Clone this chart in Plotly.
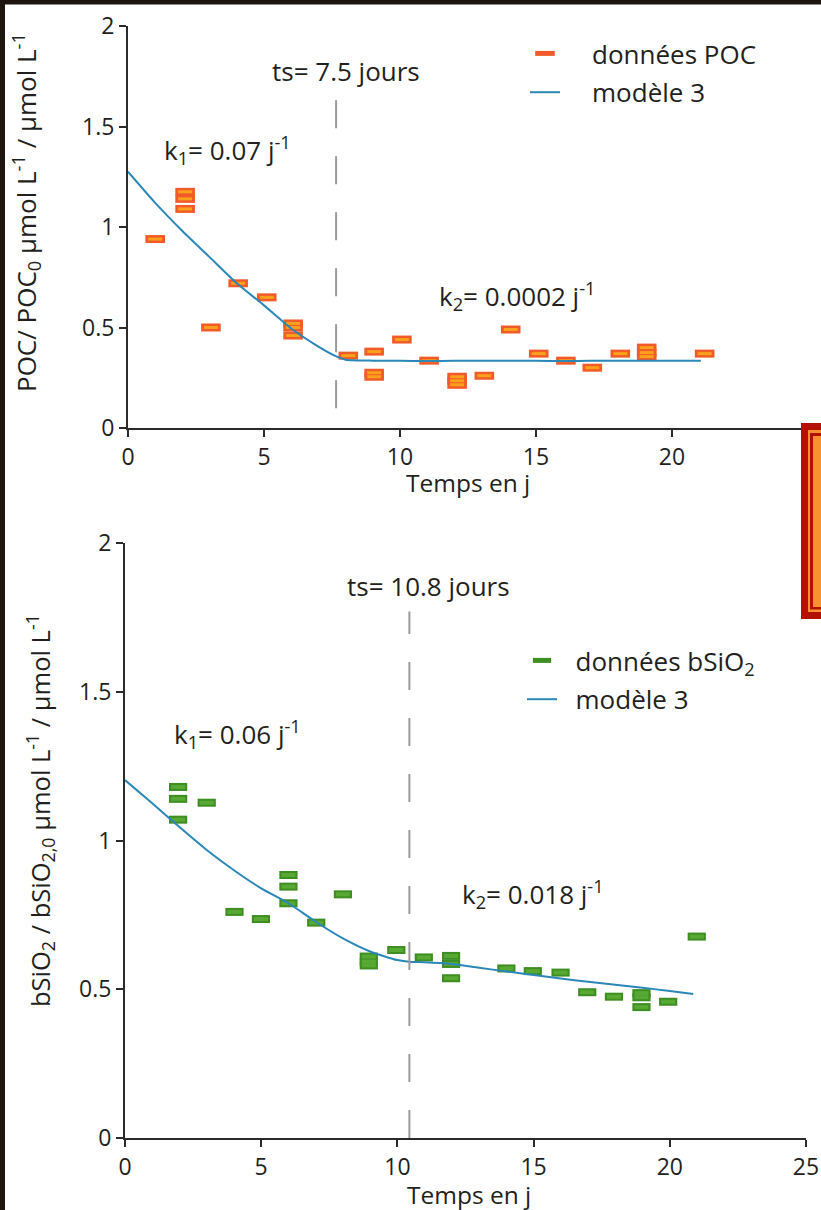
import plotly.graph_objects as go

W, H = 821, 1210

# ---------------- data ----------------
poc_days = [1.0, 2.1, 2.1, 2.1, 3.05, 4.05, 5.1, 6.07, 6.07, 6.07, 8.1, 9.05, 9.05, 9.05,
            10.07, 11.07, 12.1, 12.1, 12.1, 13.1, 14.07, 15.1, 16.1, 17.07, 18.1,
            19.07, 19.07, 19.07, 21.2]
poc_vals = [0.94, 1.175, 1.14, 1.09, 0.50, 0.72, 0.65, 0.52, 0.50, 0.46, 0.36, 0.38, 0.275, 0.255,
            0.44, 0.335, 0.255, 0.235, 0.215, 0.26, 0.49, 0.37, 0.335, 0.30, 0.37,
            0.40, 0.375, 0.355, 0.37]

model_poc_x = [0, 1, 2, 3, 4, 5, 6, 7, 7.6, 8, 9, 10, 11, 12, 13, 14, 15, 16, 17, 18, 19, 20, 21.06]
model_poc_y = [1.275, 1.12, 0.98, 0.85, 0.72, 0.61, 0.495, 0.405, 0.36, 0.34, 0.335, 0.335, 0.333,
               0.335, 0.335, 0.335, 0.334, 0.333, 0.335, 0.335, 0.335, 0.335, 0.335]

bsi_days = [1.95, 1.95, 1.95, 3.0, 4.02, 4.99, 6.0, 6.0, 6.0, 7.02, 8.0, 8.95, 8.95, 8.95,
            9.96, 10.97, 11.97, 11.97, 11.97, 14.0, 14.97, 15.99, 16.97, 17.95,
            18.96, 18.96, 18.96, 19.94, 20.99]
bsi_vals = [1.18, 1.14, 1.07, 1.127, 0.76, 0.736, 0.884, 0.845, 0.789, 0.724, 0.819, 0.61, 0.593, 0.58,
            0.632, 0.607, 0.612, 0.585, 0.537, 0.57, 0.561, 0.556, 0.49, 0.475,
            0.487, 0.473, 0.44, 0.458, 0.677]

model_bsi_x = [0, 1, 2, 3, 4, 5, 6, 7, 8, 9, 10, 10.5, 11, 12, 13, 14, 15, 16, 17, 18, 19, 20, 20.86]
model_bsi_y = [1.203, 1.125, 1.045, 0.968, 0.90, 0.839, 0.789, 0.727, 0.671, 0.627, 0.598, 0.592,
               0.591, 0.585, 0.572, 0.56, 0.548, 0.536, 0.525, 0.515, 0.505, 0.494, 0.484]

ts_poc = 7.65          # position of the dashed line (top)
ts_bsi = 10.44         # position of the dashed line (bottom)
ts_poc_label = "ts= 7.5 jours"
ts_bsi_label = "ts= 10.8 jours"
k_poc = ["k<sub>1</sub>= 0.07 j<sup>-1</sup>", "k<sub>2</sub>= 0.0002 j<sup>-1</sup>"]
k_bsi = ["k<sub>1</sub>= 0.06 j<sup>-1</sup>", "k<sub>2</sub>= 0.018 j<sup>-1</sup>"]

x_ticks = [0, 5, 10, 15, 20, 25]
x_ticktext = ["0", "5", "10", "15", "20", "25"]
y_ticks = [0, 0.5, 1, 1.5, 2]
y_ticktext = ["0", "0.5", "1", "1.5", "2"]

# ---------------- style ----------------
FONT = "Open Sans"
TXT = "#231F20"
AX = "#2b2b2b"
BLUE = "#2B87B8"
POC_OUT, POC_IN = "#F15A29", "#F9A11B"
BSI_OUT, BSI_IN = "#3E8E22", "#57A933"
PAD1 = "\u00a0" * 4   # spacing between legend symbol and text (top)
PAD2 = "\u00a0" * 2   # spacing between legend symbol and text (bottom)


def px(x):
    return x / W


def py(y):
    return 1 - y / H


fig = go.Figure()

# top panel
fig.add_trace(go.Scatter(x=poc_days, y=poc_vals, mode="markers", name=PAD1 + "données POC",
                         legend="legend", legendgroup="poc",
                         marker=dict(symbol="line-ew", size=14, color=POC_OUT,
                                     line=dict(width=8, color=POC_OUT)),
                         xaxis="x", yaxis="y"))
fig.add_trace(go.Scatter(x=poc_days, y=poc_vals, mode="markers", showlegend=False,
                         legend="legend", legendgroup="poc", hoverinfo="skip",
                         marker=dict(symbol="line-ew", size=10, color=POC_IN,
                                     line=dict(width=3, color=POC_IN)),
                         xaxis="x", yaxis="y"))
fig.add_trace(go.Scatter(x=model_poc_x, y=model_poc_y, mode="lines", name=PAD1 + "modèle 3",
                         legend="legend", legendgroup="m1",
                         line=dict(color=BLUE, width=2, shape="spline", smoothing=0.6),
                         xaxis="x", yaxis="y"))

# bottom panel
fig.add_trace(go.Scatter(x=bsi_days, y=bsi_vals, mode="markers", name=PAD2 + "données bSiO<sub>2</sub>",
                         legend="legend2", legendgroup="bsi",
                         marker=dict(symbol="line-ew", size=13, color=BSI_OUT,
                                     line=dict(width=8, color=BSI_OUT)),
                         xaxis="x2", yaxis="y2"))
fig.add_trace(go.Scatter(x=bsi_days, y=bsi_vals, mode="markers", showlegend=False,
                         legend="legend2", legendgroup="bsi", hoverinfo="skip",
                         marker=dict(symbol="line-ew", size=10, color=BSI_IN,
                                     line=dict(width=4, color=BSI_IN)),
                         xaxis="x2", yaxis="y2"))
fig.add_trace(go.Scatter(x=model_bsi_x, y=model_bsi_y, mode="lines", name=PAD2 + "modèle 3",
                         legend="legend2", legendgroup="m2",
                         line=dict(color=BLUE, width=2, shape="spline", smoothing=0.6),
                         xaxis="x2", yaxis="y2"))

axis_common = dict(showline=True, linecolor=AX, linewidth=2, ticks="outside", ticklen=7,
                   tickwidth=2, tickcolor=AX, showgrid=False, zeroline=False, automargin=False,
                   tickfont=dict(family=FONT, size=23, color=TXT), fixedrange=True)

fig.update_layout(
    width=W, height=H,
    margin=dict(l=0, r=0, t=0, b=0, pad=0, autoexpand=False),
    paper_bgcolor="#1E140E",
    plot_bgcolor="rgba(0,0,0,0)",
    font=dict(family=FONT, size=26, color=TXT),
    xaxis=dict(domain=[px(128), px(808)], range=[0, 25], anchor="y",
               tickvals=x_ticks, ticktext=x_ticktext, **axis_common),
    yaxis=dict(domain=[py(428), py(26)], range=[0, 2], anchor="x",
               tickvals=y_ticks, ticktext=y_ticktext, **axis_common),
    xaxis2=dict(domain=[px(125), px(806)], range=[0, 25], anchor="y2",
                tickvals=x_ticks, ticktext=x_ticktext, **axis_common),
    yaxis2=dict(domain=[py(1138), py(543)], range=[0, 2], anchor="x2",
                tickvals=y_ticks, ticktext=y_ticktext, **axis_common),
    legend=dict(x=px(525), y=py(30), xanchor="left", yanchor="top",
                bgcolor="rgba(0,0,0,0)", font=dict(family=FONT, size=26, color=TXT),
                itemwidth=30, tracegroupgap=2),
    legend2=dict(x=px(522), y=py(637), xanchor="left", yanchor="top",
                 bgcolor="rgba(0,0,0,0)", font=dict(family=FONT, size=26, color=TXT),
                 itemwidth=30, tracegroupgap=2),
    showlegend=True,
)

shapes = [
    # white page inside the dark frame
    dict(type="rect", xref="paper", yref="paper", x0=px(5), x1=px(821), y0=py(1210), y1=py(4.5),
         fillcolor="white", line=dict(width=0), layer="below"),
    # dashed lines at ts
    dict(type="line", xref="x", yref="y", x0=ts_poc, x1=ts_poc, y0=1.63, y1=0.095,
         line=dict(color="#9a9a9a", width=2, dash="28px,28px")),
    dict(type="line", xref="x2", yref="y2", x0=ts_bsi, x1=ts_bsi, y0=0, y1=1.77,
         line=dict(color="#9a9a9a", width=2, dash="28px,28px")),
    # decorative orange box on the right edge
    dict(type="rect", xref="paper", yref="paper", x0=px(801), x1=px(830), y0=py(619), y1=py(423),
         fillcolor="#B31200", line=dict(width=0), layer="above"),
    dict(type="rect", xref="paper", yref="paper", x0=px(808), x1=px(830), y0=py(612), y1=py(430),
         fillcolor="#F7922E", line=dict(width=0), layer="above"),
    dict(type="rect", xref="paper", yref="paper", x0=px(810), x1=px(830), y0=py(609.5), y1=py(433),
         fillcolor="#B31200", line=dict(width=0), layer="above"),
    dict(type="rect", xref="paper", yref="paper", x0=px(813), x1=px(830), y0=py(607), y1=py(436),
         fillcolor="#F7922E", line=dict(width=0), layer="above"),
]
fig.update_layout(shapes=shapes)


def ann(text, x, y, xanchor="left", angle=0, size=26):
    return dict(text=text, xref="paper", yref="paper", x=px(x), y=py(y), xanchor=xanchor,
                yanchor="middle", showarrow=False, textangle=angle,
                font=dict(family=FONT, size=size, color=TXT))


annotations = [
    ann(ts_poc_label, 270, 71),
    ann(k_poc[0], 162, 150),
    ann(k_poc[1], 437, 296),
    ann("Temps en j", 468, 483, xanchor="center", size=24.5),
    ann("POC/ POC<sub>0</sub> µmol L<sup>-1</sup> / µmol L<sup>-1</sup>", 26, 213,
        xanchor="center", angle=-90, size=26),
    ann(ts_bsi_label, 345, 586),
    ann(k_bsi[0], 172, 734),
    ann(k_bsi[1], 460, 894),
    ann("Temps en j", 469, 1194, xanchor="center", size=24.5),
    ann("bSiO<sub>2</sub> / bSiO<sub>2,0</sub> µmol L<sup>-1</sup> / µmol L<sup>-1</sup>", 40, 811,
        xanchor="center", angle=-90, size=25.5),
]
fig.update_layout(annotations=annotations)

fig.write_html("out.html", config={"displayModeBar": False})
